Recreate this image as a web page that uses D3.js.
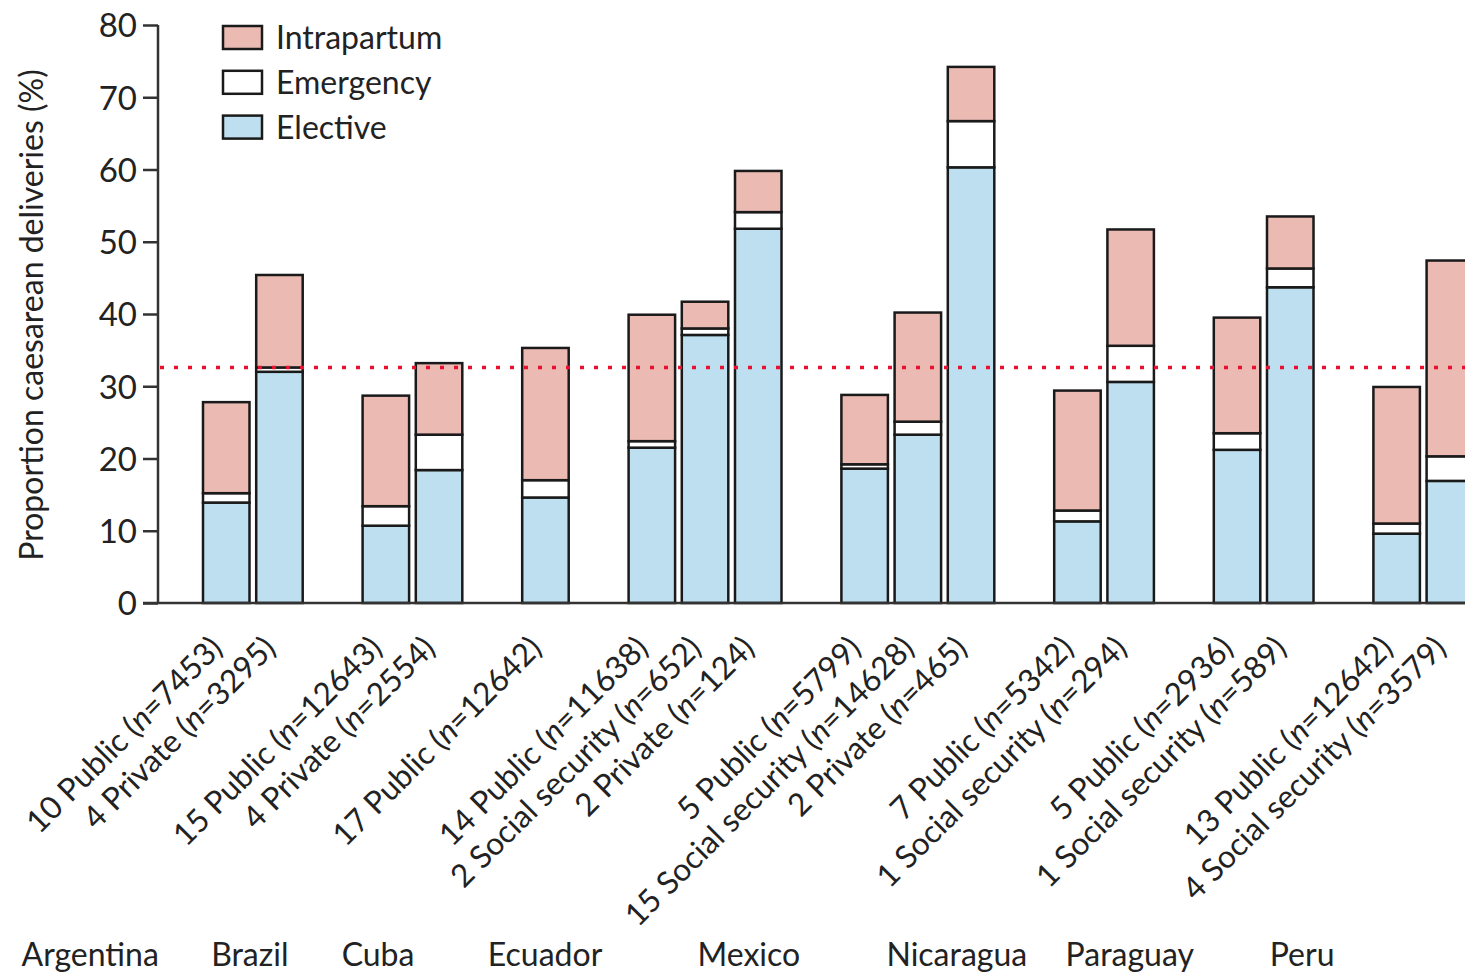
<!DOCTYPE html>
<meta charset="utf-8">
<title>caesarean deliveries</title>
<style>
  body { margin: 0; background: #fff; }
  text { font-family: Lato, "Open Sans", sans-serif; fill: #222; }
</style>
<body>
<div class="chart"></div>
<script src="https://d3js.org/d3.v7.min.js"></script>
<script>

// data

var countries = ["Argentina", "Brazil", "Cuba", "Ecuador", "Mexico", "Nicaragua", "Paraguay", "Peru"];
var groupSizes = [2, 2, 1, 3, 3, 2, 2, 2];

var hospitalCount = [10, 4, 15, 4, 17, 14, 2, 2, 5, 15, 2, 7, 1, 5, 1, 13, 4];
var hospitalType = ["Public", "Private", "Public", "Private", "Public",
  "Public", "Social security", "Private",
  "Public", "Social security", "Private",
  "Public", "Social security", "Public", "Social security",
  "Public", "Social security"];
var deliveries = [7453, 3295, 12643, 2554, 12642, 11638, 652, 124, 5799, 14628, 465, 5342, 294, 2936, 589, 12642, 3579];

var elective    = [13.9, 32.0, 10.7, 18.4, 14.6, 21.5, 37.1, 51.8, 18.6, 23.3, 60.3, 11.3, 30.6, 21.2, 43.7, 9.6, 16.9];
var emergency   = [1.3, 0.6, 2.7, 4.9, 2.4, 0.9, 0.9, 2.3, 0.6, 1.8, 6.4, 1.5, 5.0, 2.3, 2.6, 1.4, 3.4];
var intrapartum = [12.6, 12.8, 15.3, 9.9, 18.3, 17.5, 3.7, 5.7, 9.6, 15.1, 7.5, 16.6, 16.1, 16.0, 7.2, 18.9, 27.1];

var referenceLine = 32.6;
var yTicks = [0, 10, 20, 30, 40, 50, 60, 70, 80];

// layout

var width = 1465, height = 975;
var axisX = 158, y0 = 603, yTop = 25;

var svg = d3.select(".chart").append("svg")
    .attr("width", width)
    .attr("height", height);

// one empty slot between countries
var slots = [];
var s = 0;
groupSizes.forEach(function(n) {
  for (var i = 0; i < n; i++) slots.push(s++);
  s++;
});

var rows = elective.map(function(d, i) {
  return {
    slot: slots[i],
    elective: elective[i],
    emergency: emergency[i],
    intrapartum: intrapartum[i],
    label: [hospitalCount[i] + " " + hospitalType[i] + " (", deliveries[i]]
  };
});

var keys = ["elective", "emergency", "intrapartum"];
var colors = { elective: "#bddff0", emergency: "#ffffff", intrapartum: "#eabab3" };

var xscale = d3.scaleLinear().domain([0, 23]).range([203, 1426.6]);
var barW = 46.5;

var yscale = d3.scaleLinear().domain([0, 80]).range([y0, yTop]);

var stacked = d3.stack().keys(keys)(rows);

// bars

svg.append("g").selectAll("g")
  .data(stacked)
  .enter().append("g")
    .attr("fill", function(d) { return colors[d.key]; })
  .selectAll("rect")
  .data(function(d) { return d; })
  .enter().append("rect")
    .attr("x", function(d) { return xscale(d.data.slot); })
    .attr("y", function(d) { return yscale(d[1]); })
    .attr("width", barW)
    .attr("height", function(d) { return yscale(d[0]) - yscale(d[1]); })
    .attr("stroke", "#1a1a1a")
    .attr("stroke-width", 2.5);

// reference line

svg.append("line")
  .attr("x1", axisX + 2).attr("x2", width)
  .attr("y1", yscale(referenceLine)).attr("y2", yscale(referenceLine))
  .attr("stroke", "#e8102e")
  .attr("stroke-width", 3.5)
  .attr("stroke-dasharray", "4,10");

// axes

var yaxis = d3.axisLeft(yscale).tickValues(yTicks).tickSize(15).tickPadding(6);

var gy = svg.append("g")
  .attr("transform", "translate(" + axisX + ",0)")
  .call(yaxis);
gy.select(".domain").remove();
gy.append("line").attr("x1", 0).attr("x2", 0).attr("y1", yTop).attr("y2", y0 + 1)
  .attr("stroke", "#333").attr("stroke-width", 2.5);
gy.selectAll(".tick line").attr("stroke", "#333").attr("stroke-width", 2.5);
gy.selectAll(".tick text")
  .style("font-family", "Lato, sans-serif")
  .style("font-size", "33px")
  .attr("fill", "#222")
  .attr("dy", "0.36em");

svg.append("line")
  .attr("x1", axisX - 15).attr("x2", width)
  .attr("y1", y0).attr("y2", y0)
  .attr("stroke", "#333").attr("stroke-width", 2.5);

svg.append("text")
  .attr("transform", "translate(43," + 315 + ") rotate(-90)")
  .attr("text-anchor", "middle")
  .style("font-size", "32px")
  .text("Proportion caesarean deliveries (%)");

// rotated hospital labels

var lab = svg.append("g").selectAll("text")
  .data(rows)
  .enter().append("text")
    .attr("text-anchor", "end")
    .attr("transform", function(d) {
      return "translate(" + (xscale(d.slot) + barW / 2 - 2) + ",650) rotate(-45)";
    })
    .style("font-size", "31.5px");
lab.append("tspan").text(function(d) { return d.label[0]; });
lab.append("tspan").style("font-style", "italic").text("n");
lab.append("tspan").text(function(d) { return "=" + d.label[1] + ")"; });

// country names (set slightly apart from the bar groups, as in the figure)

var countryX = [-2.12, 0.88, 3.29, 6.43, 10.26, 14.17, 17.42, 20.66];
svg.append("g").selectAll("text")
  .data(countries)
  .enter().append("text")
    .attr("x", function(d, i) { return xscale(countryX[i]); })
    .attr("y", 966)
    .attr("text-anchor", "middle")
    .style("font-size", "32px")
    .text(function(d) { return d; });

// legend

var legendKeys = ["intrapartum", "emergency", "elective"];
var legendNames = { intrapartum: "Intrapartum", emergency: "Emergency", elective: "Elective" };

var lg = svg.append("g").selectAll("g")
  .data(legendKeys)
  .enter().append("g")
    .attr("transform", function(d, i) { return "translate(223," + (26 + i * 44.8) + ")"; });

lg.append("rect")
  .attr("width", 39).attr("height", 23)
  .attr("fill", function(d) { return colors[d]; })
  .attr("stroke", "#1a1a1a").attr("stroke-width", 2.5);

lg.append("text")
  .attr("x", 53).attr("y", 23)
  .style("font-size", "32px")
  .text(function(d) { return legendNames[d]; });

</script>
</body>
